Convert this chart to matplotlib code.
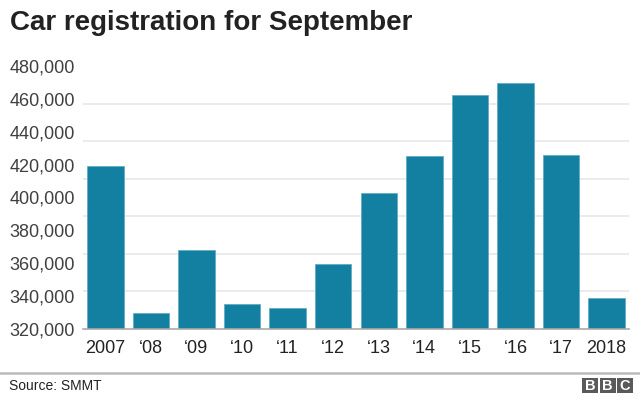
import matplotlib
matplotlib.use("Agg")
import matplotlib.pyplot as plt
from matplotlib.patches import Rectangle
from matplotlib.lines import Line2D
import numpy as np

plt.rcParams['font.family'] = ['Liberation Sans', 'DejaVu Sans']

years = ["2007", "\u201808", "\u201809", "\u201810", "\u201811", "\u201812",
         "\u201813", "\u201814", "\u201815", "\u201816", "\u201817", "2018"]
registrations = [419000, 330000, 368000, 335400, 332600, 359500,
                 402900, 425400, 462500, 469700, 426100, 338800]
ytick_values = [320000, 340000, 360000, 380000, 400000, 420000, 440000, 460000, 480000]

bar_color = "#1380A1"

fig = plt.figure(figsize=(6.4, 4.0), dpi=100)
ax = fig.add_axes([83/640, 71/400, 546/640, 263/400])

x = np.arange(len(years))
ax.bar(x, registrations, width=0.8, color=bar_color, edgecolor="#5aa8c4",
       linewidth=0.5, zorder=3)

ax.set_ylim(320000, 480000)
ax.set_xlim(-0.49, 11.49)
ax.set_yticks(ytick_values)
ax.set_yticklabels([f"{v:,}" for v in ytick_values])
ax.set_xticks(x)
ax.set_xticklabels(years)

# gridlines (7 evenly spaced intervals as in the original graphic)
grid_vals = np.linspace(320000, 480000, 8)[1:]
ax.set_yticks(grid_vals, minor=True)
ax.grid(False)
ax.yaxis.grid(True, which="minor", color="#e8e8e8", linewidth=1.2, zorder=0)
ax.tick_params(axis="y", which="minor", length=0)

ax.tick_params(axis="y", length=0, pad=6, labelsize=13, labelcolor="#404040")
ax.tick_params(axis="x", length=0, pad=8, labelsize=13, labelcolor="#222222")

for s in ["top", "right", "left"]:
    ax.spines[s].set_visible(False)
ax.spines["bottom"].set_color("#aaaaaa")
ax.spines["bottom"].set_linewidth(1.2)
ax.spines["bottom"].set_zorder(4)

fig.text(10/640, 1 - 23/400, "Car registration for September", fontsize=20,
         fontweight="bold", color="#222222", va="center", ha="left")

fig.add_artist(Line2D([0, 1], [1 - 373/400, 1 - 373/400], color="#bbbbbb",
                      linewidth=1.8, transform=fig.transFigure))
fig.text(9/640, 1 - 386/400, "Source: SMMT", fontsize=10, color="#222222",
         va="center", ha="left")

# BBC logo blocks
for i, letter in enumerate("BBC"):
    x0 = 582 + i * 17.5
    fig.add_artist(Rectangle((x0/640, 1 - 393/400), 16/640, 15/400,
                             transform=fig.transFigure, facecolor="#5a5a5a",
                             edgecolor="none"))
    fig.text((x0 + 8)/640, 1 - 385.5/400, letter, fontsize=10.5, fontweight="bold",
             color="white", ha="center", va="center")

fig.savefig("out.png", dpi=100)
